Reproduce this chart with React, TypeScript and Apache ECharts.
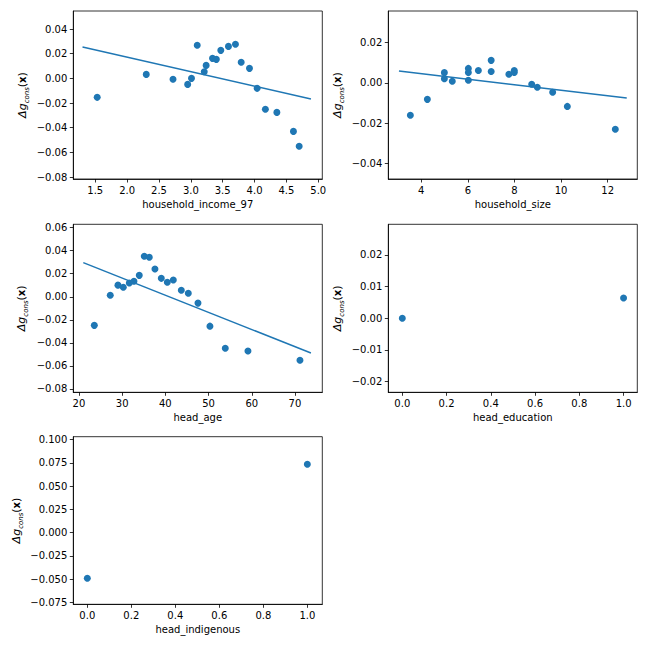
import React, { useEffect, useRef } from 'react';
import * as echarts from 'echarts';

// ---- data ----
const incomeX = [1.53, 2.30, 2.72, 2.95, 3.01, 3.10, 3.21, 3.24, 3.34, 3.40, 3.47, 3.59, 3.70, 3.79, 3.92, 4.04, 4.17, 4.35, 4.61, 4.70];
const incomeY = [-0.0154, 0.0032, -0.0008, -0.0049, 0.0000, 0.0268, 0.0054, 0.0105, 0.0162, 0.0154, 0.0227, 0.0259, 0.0276, 0.0130, 0.0081, -0.0081, -0.0251, -0.0276, -0.0430, -0.0551];
const incomeFitX = [1.30, 4.885];
const incomeFitY = [0.0254, -0.0168];

const sizeX = [3.53, 4.26, 4.99, 4.99, 5.33, 6.02, 6.02, 6.02, 6.45, 7.0, 7.0, 7.76, 7.99, 7.99, 8.74, 8.98, 9.64, 10.27, 12.33];
const sizeY = [-0.0161, -0.0082, 0.0051, 0.0021, 0.0008, 0.0072, 0.0052, 0.0013, 0.0062, 0.0112, 0.0057, 0.0043, 0.0062, 0.0052, -0.0007, -0.0022, -0.0047, -0.0117, -0.0231];
const sizeFitX = [3.04, 12.82];
const sizeFitY = [0.0059, -0.0075];

const ageX = [23.55, 27.25, 29.03, 30.26, 31.65, 32.73, 33.96, 35.12, 36.28, 37.59, 39.06, 40.45, 41.84, 43.69, 45.31, 47.55, 50.32, 53.87, 59.12, 71.16];
const ageY = [-0.0248, 0.0013, 0.0101, 0.0083, 0.0119, 0.0134, 0.0186, 0.0351, 0.0343, 0.0241, 0.0160, 0.0126, 0.0146, 0.0056, 0.0030, -0.0055, -0.0255, -0.0446, -0.0471, -0.0551];
const ageFitX = [21.0, 73.7];
const ageFitY = [0.0296, -0.0488];

const eduX = [0, 1];
const eduY = [0.0, 0.0064];

const indigX = [0, 1];
const indigY = [-0.0492, 0.0735];

// ---- tick values ----
const incomeXTicks = [1.5, 2.0, 2.5, 3.0, 3.5, 4.0, 4.5, 5.0];
const incomeYTicks = [-0.08, -0.06, -0.04, -0.02, 0.0, 0.02, 0.04];
const sizeXTicks = [4, 6, 8, 10, 12];
const sizeYTicks = [-0.04, -0.02, 0.0, 0.02];
const ageXTicks = [20, 30, 40, 50, 60, 70];
const ageYTicks = [-0.08, -0.06, -0.04, -0.02, 0.0, 0.02, 0.04, 0.06];
const binXTicks = [0.0, 0.2, 0.4, 0.6, 0.8, 1.0];
const eduYTicks = [-0.02, -0.01, 0.0, 0.01, 0.02];
const indigYTicks = [-0.075, -0.05, -0.025, 0.0, 0.025, 0.05, 0.075, 0.1];

const xNames = ['household_income_97', 'household_size', 'head_age', 'head_education', 'head_indigenous'];

const BLUE = '#1f77b4';
const FONT = 'DejaVu Sans';

function fmt(v: number, d: number) {
  let s = Math.abs(v) < 1e-12 ? (0).toFixed(d) : v.toFixed(d);
  return s.replace('-', '\u2212');
}

const panels = [
  { xs: incomeX, ys: incomeY, fx: incomeFitX, fy: incomeFitY, xt: incomeXTicks, yt: incomeYTicks, xd: 1, yd: 2,
    xr: [1.155, 5.063], yr: [-0.0816, 0.0546], grid: { left: 73.3, top: 11, width: 249, height: 168 }, yGap: 43 },
  { xs: sizeX, ys: sizeY, fx: sizeFitX, fy: sizeFitY, xt: sizeXTicks, yt: sizeYTicks, xd: 0, yd: 2,
    xr: [2.583, 13.274], yr: [-0.0478, 0.03575], grid: { left: 388.3, top: 11, width: 249, height: 168 }, yGap: 43 },
  { xs: ageX, ys: ageY, fx: ageFitX, fy: ageFitY, xt: ageXTicks, yt: ageYTicks, xd: 0, yd: 2,
    xr: [18.69, 76.33], yr: [-0.0829, 0.0629], grid: { left: 73.3, top: 224.3, width: 249, height: 168 }, yGap: 44 },
  { xs: eduX, ys: eduY, fx: null, fy: null, xt: binXTicks, yt: eduYTicks, xd: 1, yd: 2,
    xr: [-0.0633, 1.062], yr: [-0.02337, 0.02968], grid: { left: 388.3, top: 224.3, width: 249, height: 168 }, yGap: 43 },
  { xs: indigX, ys: indigY, fx: null, fy: null, xt: binXTicks, yt: indigYTicks, xd: 1, yd: 3,
    xr: [-0.0636, 1.068], yr: [-0.0772, 0.1032], grid: { left: 73.3, top: 436.7, width: 249, height: 167.6 }, yGap: 49 },
];

export default function App() {
  const ref = useRef<HTMLDivElement>(null);
  useEffect(() => {
    if (!ref.current) return;
    const chart = echarts.init(ref.current, undefined, { renderer: 'svg' });
    const grid: any[] = [];
    const xAxis: any[] = [];
    const yAxis: any[] = [];
    const series: any[] = [];
    const labelStyle = { color: '#000', fontSize: 10, fontFamily: FONT };
    panels.forEach((p, i) => {
      grid.push({ ...p.grid, show: true, borderColor: '#000', borderWidth: 0.8, backgroundColor: 'transparent', containLabel: false });
      xAxis.push({
        type: 'value', gridIndex: i, min: p.xr[0], max: p.xr[1],
        name: xNames[i], nameLocation: 'middle', nameGap: 20,
        nameTextStyle: { color: '#000', fontSize: 10, fontFamily: FONT },
        axisLine: { show: true, onZero: false, lineStyle: { color: '#000', width: 0.8 } },
        axisTick: { show: true, length: 3.5, customValues: p.xt, lineStyle: { color: '#000', width: 0.8 } },
        axisLabel: { ...labelStyle, margin: 6, customValues: p.xt, formatter: (v: number) => fmt(v, p.xd), showMinLabel: true, showMaxLabel: true },
        splitLine: { show: false },
      });
      yAxis.push({
        type: 'value', gridIndex: i, min: p.yr[0], max: p.yr[1],
        name: '{d|\u0394g}{s|cons}{p|(}{b|x}{p|)}', nameLocation: 'middle', nameGap: p.yGap, nameRotate: 90,
        nameTextStyle: {
          color: '#000', fontSize: 10, fontFamily: FONT,
          rich: {
            d: { fontSize: 11, fontStyle: 'italic', fontFamily: FONT, color: '#000', lineHeight: 16, verticalAlign: 'middle' },
            s: { fontSize: 7, fontStyle: 'italic', fontFamily: FONT, color: '#000', lineHeight: 16, verticalAlign: 'bottom' },
            p: { fontSize: 11, fontFamily: FONT, color: '#000', lineHeight: 16, verticalAlign: 'middle' },
            b: { fontSize: 10, fontWeight: 'bold', fontFamily: FONT, color: '#000', lineHeight: 16, verticalAlign: 'middle' },
          },
        },
        axisLine: { show: true, onZero: false, lineStyle: { color: '#000', width: 0.8 } },
        axisTick: { show: true, length: 3.5, customValues: p.yt, lineStyle: { color: '#000', width: 0.8 } },
        axisLabel: { ...labelStyle, margin: 6, customValues: p.yt, formatter: (v: number) => fmt(v, p.yd), showMinLabel: true, showMaxLabel: true },
        splitLine: { show: false },
      });
      series.push({
        type: 'scatter', xAxisIndex: i, yAxisIndex: i, symbolSize: 7,
        itemStyle: { color: BLUE, opacity: 1 },
        data: p.xs.map((x, k) => [x, p.ys[k]]),
        silent: true,
      });
      if (p.fx && p.fy) {
        series.push({
          type: 'line', xAxisIndex: i, yAxisIndex: i, showSymbol: false, symbol: 'none',
          lineStyle: { color: BLUE, width: 1.5 },
          data: p.fx.map((x, k) => [x, p.fy![k]]),
          silent: true, z: 1,
        });
      }
    });
    chart.setOption({
      animation: false,
      backgroundColor: '#fff',
      textStyle: { fontFamily: FONT },
      grid, xAxis, yAxis, series,
    });
    return () => chart.dispose();
  }, []);
  return (
    <div style={{ position: 'fixed', left: 0, top: 0, width: 648, height: 648, background: '#fff' }}>
      <div ref={ref} style={{ width: 648, height: 648 }} />
    </div>
  );
}
